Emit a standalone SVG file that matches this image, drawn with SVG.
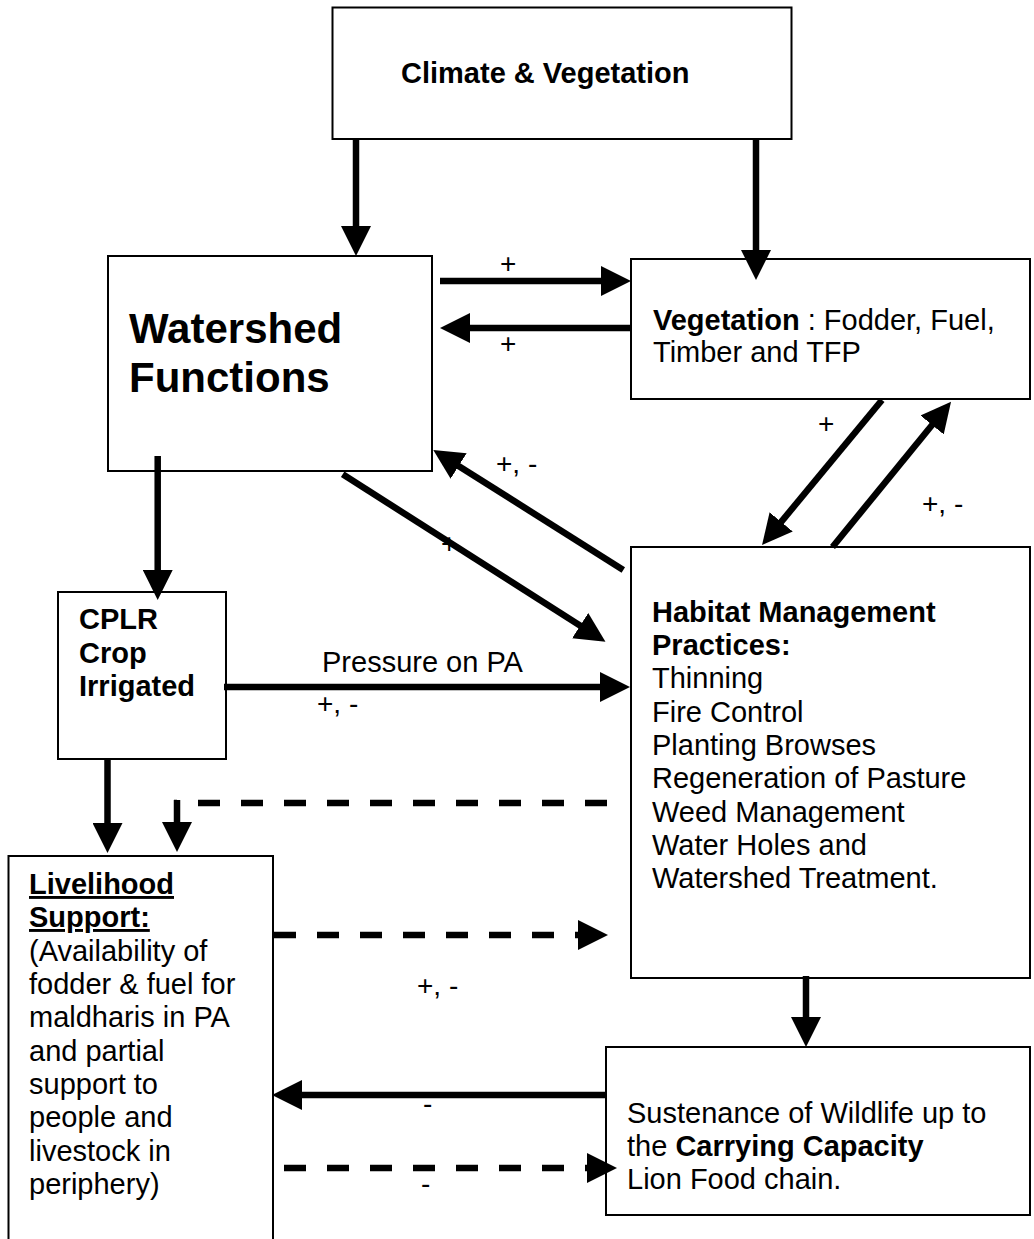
<svg xmlns="http://www.w3.org/2000/svg" width="1034" height="1239" viewBox="0 0 1034 1239">
<style>
  .box { fill: #ffffff; stroke: #000000; stroke-width: 2; }
  .t { font-family: "Liberation Sans", Arial, sans-serif; font-size: 29px; fill: #000000; }
  .b { font-weight: bold; }
  .big { font-size: 42px; font-weight: bold; }
  .lbl { font-family: "Liberation Sans", Arial, sans-serif; font-size: 28px; fill: #000000; }
  .u { text-decoration: underline; }
  .ln { fill: none; stroke: #000000; stroke-width: 6.5; marker-end: url(#ah); }
  .dash { fill: none; stroke: #000000; stroke-width: 6.5; stroke-dasharray: 22 21; }
</style>
<defs>
  <marker id="ah" markerUnits="userSpaceOnUse" markerWidth="30" markerHeight="30" refX="10" refY="15" orient="auto" viewBox="0 0 30 30">
    <path d="M0,0 L30,15 L0,30 Z" fill="#000000"/>
  </marker>
</defs>
<rect x="0" y="0" width="1034" height="1239" fill="#ffffff"/>

<g id="climate">
  <rect class="box" x="332.5" y="7.5" width="459" height="131.5"/>
  <text class="t b" x="401" y="83">Climate &amp; Vegetation</text>
</g>

<g id="watershed">
  <rect class="box" x="108" y="256" width="324" height="215"/>
  <text class="t big" x="129" y="343">Watershed</text>
  <text class="t big" x="129" y="392">Functions</text>
</g>

<g id="vegetation">
  <rect class="box" x="631" y="259" width="399" height="140"/>
  <text class="t" x="653" y="330"><tspan class="b">Vegetation</tspan> : Fodder, Fuel,</text>
  <text class="t" x="653" y="362">Timber and TFP</text>
</g>

<g id="habitat">
  <rect class="box" x="631" y="547" width="399" height="431"/>
  <text class="t b" x="652" y="622">Habitat Management</text>
  <text class="t b" x="652" y="655">Practices:</text>
  <text class="t" x="652" y="688">Thinning</text>
  <text class="t" x="652" y="722">Fire Control</text>
  <text class="t" x="652" y="755">Planting Browses</text>
  <text class="t" x="652" y="788">Regeneration of Pasture</text>
  <text class="t" x="652" y="822">Weed Management</text>
  <text class="t" x="652" y="855">Water Holes and</text>
  <text class="t" x="652" y="888">Watershed Treatment.</text>
</g>

<g id="cplr">
  <rect class="box" x="58" y="592" width="168" height="167"/>
  <text class="t b" x="79" y="629">CPLR</text>
  <text class="t b" x="79" y="663">Crop</text>
  <text class="t b" x="79" y="696">Irrigated</text>
</g>

<g id="livelihood">
  <rect class="box" x="8.5" y="856" width="264.5" height="400"/>
  <text class="t b u" x="29" y="894">Livelihood</text>
  <text class="t b u" x="29" y="927">Support:</text>
  <text class="t" x="29" y="961">(Availability of</text>
  <text class="t" x="29" y="994">fodder &amp; fuel for</text>
  <text class="t" x="29" y="1027">maldharis in PA</text>
  <text class="t" x="29" y="1061">and partial</text>
  <text class="t" x="29" y="1094">support to</text>
  <text class="t" x="29" y="1127">people and</text>
  <text class="t" x="29" y="1161">livestock in</text>
  <text class="t" x="29" y="1194">periphery)</text>
</g>

<g id="sustenance">
  <rect class="box" x="606" y="1047" width="424" height="168"/>
  <text class="t" x="627" y="1123">Sustenance of Wildlife up to</text>
  <text class="t" x="627" y="1156">the <tspan class="b">Carrying Capacity</tspan></text>
  <text class="t" x="627" y="1189">Lion Food chain.</text>
</g>

<g id="connectors">
  <line class="ln" x1="356" y1="139" x2="356" y2="236"/>
  <line class="ln" x1="756" y1="139" x2="756" y2="260"/>
  <line class="ln" x1="440" y1="281" x2="611" y2="281"/>
  <line class="ln" x1="631" y1="328" x2="460" y2="328"/>
  <line class="ln" x1="882" y1="400" x2="774.8" y2="529.6"/>
  <line class="ln" x1="832.5" y1="547" x2="938.4" y2="417.2"/>
  <line class="ln" x1="623.3" y1="570" x2="450.2" y2="460.7"/>
  <line class="ln" x1="342.7" y1="474.3" x2="588.6" y2="631"/>
  <line class="ln" x1="157.7" y1="456" x2="157.7" y2="580"/>
  <line class="ln" x1="224" y1="687" x2="610" y2="687"/>
  <line class="ln" x1="107.5" y1="759" x2="107.5" y2="833"/>
  <line class="dash" x1="607" y1="803" x2="174" y2="803"/>
  <line class="ln" x1="177" y1="800" x2="177" y2="832"/>
  <line class="dash" x1="274" y1="935" x2="588" y2="935" style="marker-end:url(#ah)"/>
  <line class="ln" x1="806" y1="976" x2="806" y2="1027"/>
  <line class="ln" x1="605" y1="1095" x2="292" y2="1095"/>
  <line class="dash" x1="284" y1="1168" x2="597" y2="1168" style="marker-end:url(#ah)"/>
  <text class="lbl" x="500" y="273">+</text>
  <text class="lbl" x="500" y="353">+</text>
  <text class="lbl" x="818" y="433">+</text>
  <text class="lbl" x="922" y="513">+, -</text>
  <text class="lbl" x="496" y="473">+, -</text>
  <text class="lbl" x="441" y="553">+</text>
  <text class="t" x="322" y="672">Pressure on PA</text>
  <text class="lbl" x="317" y="713">+, -</text>
  <text class="lbl" x="417" y="995">+, -</text>
  <text class="lbl" x="423" y="1113">-</text>
  <text class="lbl" x="421" y="1193">-</text>
</g>
</svg>
